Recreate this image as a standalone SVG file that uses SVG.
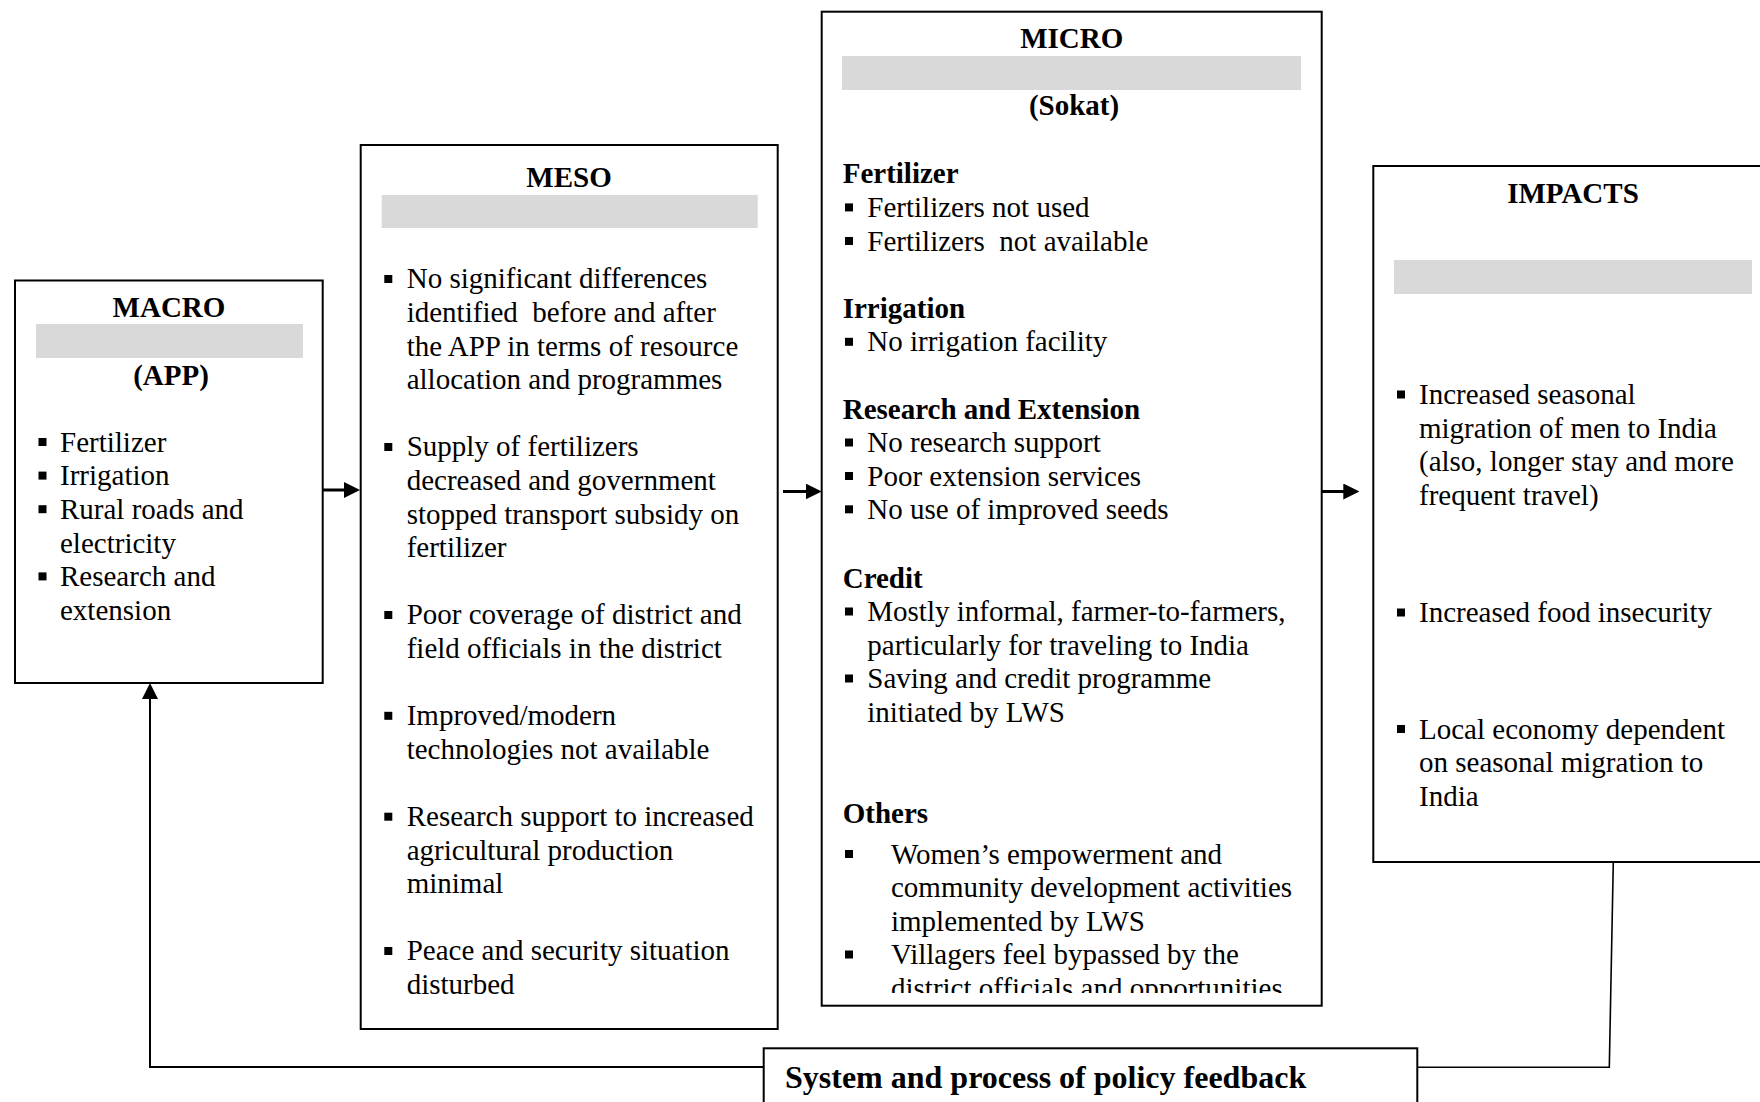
<svg xmlns="http://www.w3.org/2000/svg" width="1760" height="1102" viewBox="0 0 1760 1102">
  <style>
    .box { fill: #ffffff; stroke: #000000; stroke-width: 2; }
    .bar { fill: #d9d9d9; stroke: none; }
    .t { font-family: "Liberation Serif", "Times New Roman", serif; font-size: 29px; fill: #000000; white-space: pre; }
    .h { font-weight: bold; }
    .c { text-anchor: middle; }
    .fb { font-family: "Liberation Serif", "Times New Roman", serif; font-size: 32px; font-weight: bold; fill: #000000; }
    .b { fill: #000000; }
    .arrow { fill: none; stroke: #000000; stroke-width: 3; }
    .loop { fill: none; stroke: #000000; stroke-width: 2; }
    .loop2 { fill: none; stroke: #000000; stroke-width: 1.6; }
  </style>
  <defs>
    <marker id="head" viewBox="0 0 16 16" refX="6" refY="8" markerWidth="16" markerHeight="16" markerUnits="userSpaceOnUse" orient="auto">
      <path d="M0,0 L16,8 L0,16 Z" fill="#000000"/>
    </marker>
    <clipPath id="microClip">
      <rect x="822" y="12" width="499" height="981"/>
    </clipPath>
  </defs>

  <rect width="1760" height="1102" fill="#ffffff"/>

  <!-- MACRO level -->
  <g id="macro">
    <rect class="box" x="15" y="280.5" width="307.7" height="402.5"/>
    <text class="t h c" x="169" y="316.7">MACRO</text>
    <rect class="bar" x="36" y="324" width="267" height="34"/>
    <text class="t h c" x="171" y="385">(APP)</text>
    <rect class="b" x="38.5" y="438" width="8" height="8"/>
    <text class="t" x="60" y="451.7">Fertilizer</text>
    <rect class="b" x="38.5" y="471.6" width="8" height="8"/>
    <text class="t" x="60" y="485.3">Irrigation</text>
    <rect class="b" x="38.5" y="505.2" width="8" height="8"/>
    <text class="t" x="60" y="518.9">Rural roads and</text>
    <text class="t" x="60" y="552.5">electricity</text>
    <rect class="b" x="38.5" y="572.4" width="8" height="8"/>
    <text class="t" x="60" y="586.1">Research and</text>
    <text class="t" x="60" y="619.7">extension</text>
  </g>

  <!-- MESO level -->
  <g id="meso">
    <rect class="box" x="360.7" y="145" width="417" height="884"/>
    <text class="t h c" x="569" y="186.7">MESO</text>
    <rect class="bar" x="381.7" y="195" width="376" height="33"/>
    <rect class="b" x="384.3" y="275" width="8" height="8"/>
    <text class="t" x="406.7" y="288.3">No significant differences</text>
    <text class="t" x="406.7" y="321.9">identified  before and after</text>
    <text class="t" x="406.7" y="355.5">the APP in terms of resource</text>
    <text class="t" x="406.7" y="389.1">allocation and programmes</text>
    <rect class="b" x="384.3" y="443" width="8" height="8"/>
    <text class="t" x="406.7" y="456.3">Supply of fertilizers</text>
    <text class="t" x="406.7" y="489.9">decreased and government</text>
    <text class="t" x="406.7" y="523.5">stopped transport subsidy on</text>
    <text class="t" x="406.7" y="557.1">fertilizer</text>
    <rect class="b" x="384.3" y="611" width="8" height="8"/>
    <text class="t" x="406.7" y="624.3">Poor coverage of district and</text>
    <text class="t" x="406.7" y="657.9">field officials in the district</text>
    <rect class="b" x="384.3" y="711.8" width="8" height="8"/>
    <text class="t" x="406.7" y="725.1">Improved/modern</text>
    <text class="t" x="406.7" y="758.7">technologies not available</text>
    <rect class="b" x="384.3" y="812.7" width="8" height="8"/>
    <text class="t" x="406.7" y="826">Research support to increased</text>
    <text class="t" x="406.7" y="859.5">agricultural production</text>
    <text class="t" x="406.7" y="893">minimal</text>
    <rect class="b" x="384.3" y="947" width="8" height="8"/>
    <text class="t" x="406.7" y="960.3">Peace and security situation</text>
    <text class="t" x="406.7" y="994">disturbed</text>
  </g>

  <!-- MICRO level -->
  <g id="micro">
    <rect class="box" x="821.7" y="11.7" width="500" height="994"/>
    <text class="t h c" x="1071.7" y="48.3">MICRO</text>
    <rect class="bar" x="842" y="56" width="459" height="34"/>
    <text class="t h c" x="1074" y="115">(Sokat)</text>
    <g clip-path="url(#microClip)">
      <text class="t h" x="842.7" y="183.3">Fertilizer</text>
      <rect class="b" x="845" y="203.4" width="8" height="8"/>
      <text class="t" x="867.3" y="216.9">Fertilizers not used</text>
      <rect class="b" x="845" y="237" width="8" height="8"/>
      <text class="t" x="867.3" y="250.5">Fertilizers  not available</text>
      <text class="t h" x="842.7" y="318">Irrigation</text>
      <rect class="b" x="845" y="337.8" width="8" height="8"/>
      <text class="t" x="867.3" y="351.3">No irrigation facility</text>
      <text class="t h" x="842.7" y="418.5">Research and Extension</text>
      <rect class="b" x="845" y="438.5" width="8" height="8"/>
      <text class="t" x="867.3" y="452">No research support</text>
      <rect class="b" x="845" y="472" width="8" height="8"/>
      <text class="t" x="867.3" y="485.5">Poor extension services</text>
      <rect class="b" x="845" y="505.3" width="8" height="8"/>
      <text class="t" x="867.3" y="518.8">No use of improved seeds</text>
      <text class="t h" x="842.7" y="587.5">Credit</text>
      <rect class="b" x="845" y="607.5" width="8" height="8"/>
      <text class="t" x="867.3" y="621">Mostly informal, farmer-to-farmers,</text>
      <text class="t" x="867.3" y="654.5">particularly for traveling to India</text>
      <rect class="b" x="845" y="674.5" width="8" height="8"/>
      <text class="t" x="867.3" y="688">Saving and credit programme</text>
      <text class="t" x="867.3" y="721.5">initiated by LWS</text>
      <text class="t h" x="842.7" y="822.5">Others</text>
      <rect class="b" x="845" y="850" width="8" height="8"/>
      <text class="t" x="891" y="863.5">Women’s empowerment and</text>
      <text class="t" x="891" y="897">community development activities</text>
      <text class="t" x="891" y="930.5">implemented by LWS</text>
      <rect class="b" x="845" y="950.5" width="8" height="8"/>
      <text class="t" x="891" y="964">Villagers feel bypassed by the</text>
      <text class="t" x="891" y="997.5">district officials and opportunities</text>
    </g>
  </g>

  <!-- IMPACTS -->
  <g id="impacts">
    <rect class="box" x="1373.3" y="166" width="400" height="696"/>
    <text class="t h c" x="1573" y="203">IMPACTS</text>
    <rect class="bar" x="1394" y="260" width="358" height="34"/>
    <rect class="b" x="1397" y="390.5" width="8" height="8"/>
    <text class="t" x="1419" y="404">Increased seasonal</text>
    <text class="t" x="1419" y="437.5">migration of men to India</text>
    <text class="t" x="1419" y="471">(also, longer stay and more</text>
    <text class="t" x="1419" y="504.5">frequent travel)</text>
    <rect class="b" x="1397" y="608.5" width="8" height="8"/>
    <text class="t" x="1419" y="622">Increased food insecurity</text>
    <rect class="b" x="1397" y="725" width="8" height="8"/>
    <text class="t" x="1419" y="738.6">Local economy dependent</text>
    <text class="t" x="1419" y="772">on seasonal migration to</text>
    <text class="t" x="1419" y="805.5">India</text>
  </g>

  <!-- Policy feedback -->
  <g id="feedback">
    <rect class="box" x="763.7" y="1048.3" width="653.6" height="80"/>
    <text class="fb" x="785" y="1088">System and process of policy feedback</text>
  </g>

  <!-- Connectors -->
  <g id="connectors">
    <line class="arrow" x1="322.7" y1="490" x2="350" y2="490" marker-end="url(#head)"/>
    <line class="arrow" x1="783" y1="491.5" x2="811.7" y2="491.5" marker-end="url(#head)"/>
    <line class="arrow" x1="1321.7" y1="491.5" x2="1349.3" y2="491.5" marker-end="url(#head)"/>
    <polyline class="loop2" points="1613.3,862 1609.3,1067.3 1417.3,1067.3"/>
    <polyline class="loop" points="763.7,1067 150,1067 150,693" marker-end="url(#head)"/>
  </g>
</svg>
